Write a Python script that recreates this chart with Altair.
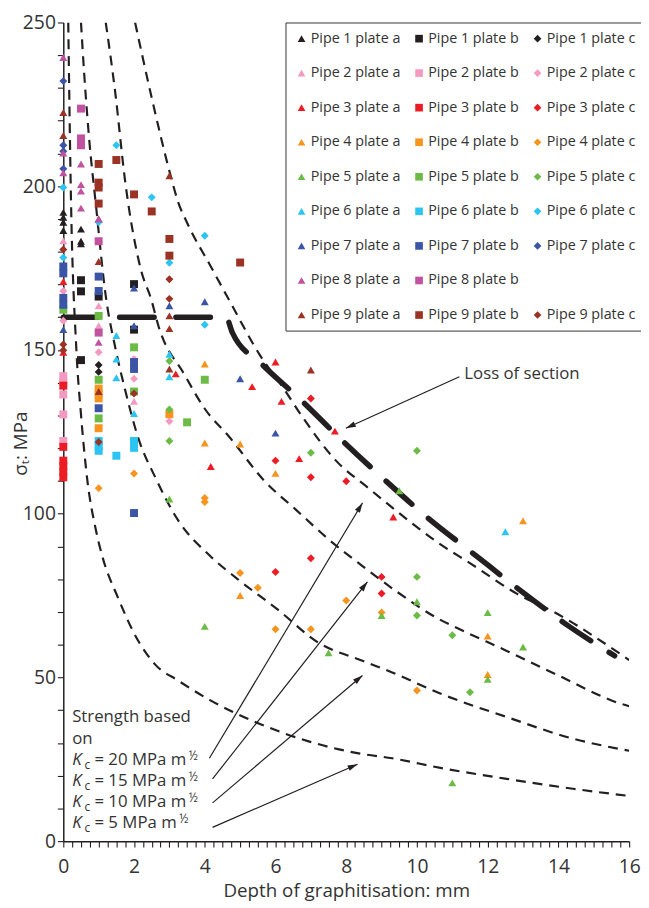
import math
import altair as alt
import pandas as pd

FONT = "Open Sans"
INK = "#231f20"
TXT = "#333333"

# ---------------- data ----------------
pipe_colors = ["#231f20", "#f49ac1", "#ed1c24", "#f7941d", "#6cbb46",
               "#2cc4f2", "#3a55a5", "#c0529f", "#9b3324"]
plate_shapes = ["triangle-up", "square", "diamond"]
plates = ["a", "b", "c"]

# (depth mm, stress MPa)
pipe1_a = [(0, 192.0), (0, 190.5), (0, 189.0), (0, 186.5), (0.5, 186.9), (0.5, 183.2), (0.5, 182.4), (1, 190.0)]
pipe1_b = [(0.5, 171.3), (0.5, 167.9), (0.5, 146.9), (1, 166.3), (2, 170.1), (2, 156.2)]
pipe1_c = [(1, 145.4), (1, 143.3)]
pipe2_a = [(0, 183.3), (1, 163.5), (1, 157.4), (2, 134.3)]
pipe2_b = [(0, 142.0), (0, 140.5), (0, 136.4), (0, 130.3), (0, 122.2)]
pipe2_c = [(0, 168.0), (0, 158.9), (1, 149.3), (2, 147.2), (2, 141.2), (3, 128.2)]
pipe3_a = [(0, 170.9), (0, 149.3), (3.18, 142.7), (4.17, 114.4), (5.34, 138.8), (6, 146.3),
           (6.17, 134.3), (6.67, 116.8), (7.68, 125.2), (9.33, 99.0)]
pipe3_b = [(0, 139.1), (0, 120.4), (0, 116.2), (0, 114.5), (0, 112.8), (0, 111.1)]
pipe3_c = [(6, 116.2), (6, 82.2), (7, 135.2), (7, 111.1), (7, 86.4), (8, 109.9), (9, 80.7), (9, 75.6)]
pipe4_a = [(4, 145.7), (4, 121.6), (5, 121.3), (5, 75.0), (6, 112.3), (12, 62.6), (12, 50.9), (13, 97.8)]
pipe4_b = [(1, 138.2), (1, 136.6), (1, 135.2), (1, 126.1), (3, 130.4)]
pipe4_c = [(1, 107.8), (2, 112.3), (4, 104.8), (4, 103.6), (5, 81.9), (5.5, 77.4), (6, 64.7),
           (7, 64.7), (8, 73.5), (9, 69.8), (10, 46.0)]
pipe5_a = [(3, 104.5), (4, 65.6), (7.5, 57.5), (9, 68.9), (9.5, 107.0), (10, 73.1), (11, 17.8),
           (12, 69.8), (12, 49.4), (13, 59.3)]
pipe5_b = [(0, 162.3), (1, 160.4), (1, 140.9), (1, 129.1), (2, 150.8), (2, 137.3), (3.5, 127.9), (4, 140.9)]
pipe5_c = [(3, 146.6), (3, 131.8), (3, 122.2), (7, 118.6), (10, 119.2), (10, 80.7), (10, 68.9),
           (11, 62.9), (11.5, 45.5)]
pipe6_a = [(1.5, 154.4), (1.5, 147.2), (1.5, 141.5), (2, 130.6), (3, 148.7), (3, 141.8), (12.5, 94.5)]
pipe6_b = [(1, 122.2), (1, 120.6), (1, 119.2), (1.5, 117.7), (2, 122.2), (2, 120.1)]
pipe6_c = [(0, 199.6), (0, 178.2), (1, 189.0), (1.5, 212.5), (2.5, 196.6), (3, 176.6), (4, 184.9), (4, 157.7)]
pipe7_a = [(0, 156.2), (2, 168.9), (2, 157.4), (3, 163.5), (4, 164.7), (5, 141.2), (6, 124.6)]
pipe7_b = [(0, 175.5), (0, 173.4), (0, 165.9), (0, 163.8), (1, 172.4), (1, 168.0), (1, 132.2),
           (2, 146.3), (2, 144.2), (2, 100.2)]
pipe7_c = [(0, 232.1), (0, 212.5), (0, 210.7), (0, 205.3)]
pipe8_a = [(0, 239.3), (0, 210.1), (0, 204.1), (0.5, 206.8), (0.5, 200.5), (0.5, 198.5), (0.5, 193.3),
           (1, 190.0), (1, 152.3)]
pipe8_b = [(0.5, 223.7), (0.5, 214.6), (0.5, 212.5), (1, 183.2), (1, 155.3)]
pipe8_c = []  # no plate c for pipe 8
pipe9_a = [(0, 222.5), (0, 215.5), (1, 177.0), (1, 137.3), (3, 203.2), (3, 160.4), (3, 156.5),
           (3, 144.2), (7, 143.9)]
pipe9_b = [(1, 206.8), (1, 201.1), (1, 199.6), (1, 194.7), (1.5, 208.0), (2, 197.5), (2.5, 192.3),
           (3, 183.9), (3, 178.8), (5, 176.7)]
pipe9_c = [(0, 180.7), (0, 151.7), (0, 149.9), (1, 121.9), (2, 136.7), (3, 171.6), (3, 165.6)]

all_sets = [pipe1_a, pipe1_b, pipe1_c, pipe2_a, pipe2_b, pipe2_c, pipe3_a, pipe3_b, pipe3_c,
            pipe4_a, pipe4_b, pipe4_c, pipe5_a, pipe5_b, pipe5_c, pipe6_a, pipe6_b, pipe6_c,
            pipe7_a, pipe7_b, pipe7_c, pipe8_a, pipe8_b, pipe8_c, pipe9_a, pipe9_b, pipe9_c]

# Kc curves
kc20_x = [2.03, 2.5, 3.05, 3.24, 3.52, 4.17, 4.73, 5.56, 6.23, 6.79, 7.71, 8.63, 9.39, 10.59, 11.54, 12.82, 13.85, 16.0]
kc20_y = [250, 227, 202.6, 195.4, 188.4, 175.5, 164.4, 148.4, 138.2, 129.1, 116.2, 107.8, 101.1, 91.2, 84.6, 75.6, 70.1, 55.3]
kc15_x = [1.2, 1.47, 1.75, 2.2, 2.49, 2.68, 3.43, 3.99, 4.72, 5.67, 6.59, 7.51, 8.46, 9.39, 10.59, 11.15, 12.54, 13.94, 15.81, 16.0]
kc15_y = [250, 228.5, 201.4, 174.3, 165.3, 157.7, 142.4, 132.2, 123.1, 110.2, 101.1, 92.1, 84.0, 76.5, 68.0, 65.0, 58.1, 50.9, 41.8, 41.2]
kc10_x = [0.5, 0.59, 0.73, 0.92, 1.2, 1.48, 1.76, 2.12, 2.6, 3.24, 4.16, 4.92, 6.03, 7.23, 8.46, 9.3, 10.7, 12.54, 14.41, 16.0]
kc10_y = [250, 234.5, 214.6, 194.5, 166.5, 150.2, 137.3, 123.1, 111.1, 98.1, 87.0, 80.1, 71.0, 60.5, 55.1, 51.5, 44.9, 37.9, 31.3, 27.6]
kc5_x = [0.14, 0.21, 0.37, 0.5, 0.67, 0.92, 1.09, 1.56, 2.03, 2.6, 3.24, 4.16, 5.56, 6.96, 8.35, 9.3, 10.7, 12.54, 14.41, 16.0]
kc5_y = [250, 200, 150, 130.3, 111.1, 95.1, 87.5, 74.0, 62.9, 53.9, 49.1, 43.0, 35.8, 30.4, 26.8, 25.3, 22.3, 19.0, 16.0, 13.8]

# loss-of-section line
loss_x = [0, 4.6, 4.78, 5.61, 6.73, 7.9, 9.1, 10.31, 11.62, 12.93, 14.22, 15.59]
loss_y = [160, 160, 155.3, 145.7, 134.6, 122.2, 110.2, 98.7, 87.6, 76.5, 66.2, 56.6]

# annotation arrows (start -> tip, data units)
arrow_x1 = [4.13, 4.22, 4.22, 4.22, 11.2]
arrow_y1 = [25.3, 19.0, 11.7, 4.2, 141.8]
arrow_x2 = [8.46, 8.60, 8.46, 8.32, 7.99]
arrow_y2 = [103.3, 79.2, 50.6, 23.5, 126.1]

kc_values = ["20", "15", "10", "5"]
kc_rows_y = [24.7, 18.4, 12.0, 5.4]
kc_half_x = [3.55, 3.55, 3.55, 3.28]

# ---------------- tables ----------------
series_order, series_colors, series_shapes, rows = [], [], [], []
k = 0
for p in range(9):
    for j, pl in enumerate(plates):
        name = f"Pipe {p + 1} plate {pl}"
        series_order.append(name)
        series_colors.append(pipe_colors[p] if all_sets[k] else "#ffffff")
        series_shapes.append(plate_shapes[j])
        for (xv, yv) in all_sets[k]:
            rows.append({"x": xv, "y": yv, "series": name})
        k += 1
scatter_df = pd.DataFrame(rows)

curve_rows = []
for name, xs_, ys_ in [("20", kc20_x, kc20_y), ("15", kc15_x, kc15_y), ("10", kc10_x, kc10_y), ("5", kc5_x, kc5_y)]:
    for xv, yv in zip(xs_, ys_):
        curve_rows.append({"x": xv, "y": yv, "curve": name})
curve_df = pd.DataFrame(curve_rows)
loss_df = pd.DataFrame({"x": loss_x, "y": loss_y})

W, H = 573, 829
PX_X = W / 16
PX_Y = H / 250
arrow_df = pd.DataFrame({"x": arrow_x1, "y": arrow_y1, "x2": arrow_x2, "y2": arrow_y2})
arrow_df["angle"] = [
    math.degrees(math.atan2((b - a) * PX_X, (d - c) * PX_Y)) % 360
    for a, b, c, d in zip(arrow_x1, arrow_x2, arrow_y1, arrow_y2)
]

# ---------------- axes ----------------
x_axis = alt.Axis(values=[i / 4 for i in range(65)],
                  labelExpr="datum.value % 2 === 0 ? '' + datum.value : ''",
                  title="Depth of graphitisation: mm", grid=False,
                  tickSize=6, tickColor=INK, tickWidth=1.1, domainColor=INK, domainWidth=1.5,
                  labelFont=FONT, labelFontSize=19.5, labelColor=TXT, labelPadding=11,
                  labelFlush=False, labelOverlap=False,
                  titleFont=FONT, titleFontSize=19, titleFontWeight="normal", titleColor=TXT, titlePadding=6)
y_axis = alt.Axis(values=list(range(0, 251, 10)),
                  labelExpr="datum.value % 50 === 0 ? '' + datum.value : ''",
                  title="σₜ: MPa", grid=False,
                  tickSize=6, tickColor=INK, tickWidth=1.1, domainColor=INK, domainWidth=1.5,
                  labelFont=FONT, labelFontSize=19.5, labelColor=TXT, labelPadding=2,
                  labelFlush=False, labelOverlap=False,
                  titleFont=FONT, titleFontSize=19, titleFontWeight="normal", titleColor=TXT,
                  titleX=-33, titleY=426)

xs = alt.Scale(domain=[0, 16], nice=False, zero=False)
ys = alt.Scale(domain=[0, 250], nice=False, zero=False)


def X(f="x"):
    return alt.X(f"{f}:Q", scale=xs, axis=x_axis)


def Y(f="y"):
    return alt.Y(f"{f}:Q", scale=ys, axis=y_axis)


curves = alt.Chart(curve_df).mark_line(
    strokeDash=[10, 7], strokeWidth=2.2, color=INK, interpolate="monotone", clip=True
).encode(x=X(), y=Y(), detail="curve:N")

loss = alt.Chart(loss_df).mark_line(
    strokeDash=[35, 22], strokeWidth=5.5, strokeCap="round", color=INK, interpolate="monotone"
).encode(x=X(), y=Y())

arrows = alt.Chart(arrow_df).mark_rule(color=INK, strokeWidth=1.2).encode(
    x=X(), y=Y(), x2="x2:Q", y2="y2:Q")

heads = alt.Chart(arrow_df).mark_point(
    shape="M0,0L0.6,2L-0.6,2Z", filled=True, size=100, color=INK, opacity=1
).encode(x=X("x2"), y=Y("y2"), angle=alt.Angle("angle:Q", scale=None))

plain_df = pd.DataFrame({"x": [11.34, 0.25, 0.25], "y": [142.7, 37.9, 31.3],
                         "t": ["Loss of section", "Strength based", "on"]})
plain = alt.Chart(plain_df).mark_text(
    align="left", baseline="middle", font=FONT, fontSize=17, color=TXT
).encode(x=X(), y=Y(), text="t:N")

k_df = pd.DataFrame({"x": [0.25] * 4, "y": kc_rows_y, "t": ["K"] * 4})
k_txt = alt.Chart(k_df).mark_text(
    align="left", baseline="middle", font=FONT, fontSize=17, fontStyle="italic", color=TXT
).encode(x=X(), y=Y(), text="t:N")

c_df = pd.DataFrame({"x": [0.6] * 4, "y": kc_rows_y, "t": ["c"] * 4})
c_txt = alt.Chart(c_df).mark_text(
    align="left", baseline="middle", font=FONT, fontSize=12, dy=5, color=TXT
).encode(x=X(), y=Y(), text="t:N")

eq_df = pd.DataFrame({"x": [0.88] * 4, "y": kc_rows_y, "t": [f"= {v} MPa m" for v in kc_values]})
eq_txt = alt.Chart(eq_df).mark_text(
    align="left", baseline="middle", font=FONT, fontSize=17, color=TXT
).encode(x=X(), y=Y(), text="t:N")

half_df = pd.DataFrame({"x": kc_half_x, "y": kc_rows_y, "t": ["½"] * 4})
half_txt = alt.Chart(half_df).mark_text(
    align="left", baseline="middle", font=FONT, fontSize=12, dy=-4, color=TXT
).encode(x=X(), y=Y(), text="t:N")

legend = alt.Legend(title=None, orient="none", legendX=225, legendY=0, direction="horizontal", columns=3,
                    symbolSize=60, symbolStrokeWidth=0, labelFont=FONT, labelFontSize=14.5,
                    labelColor=TXT, labelOffset=2, labelLimit=200, padding=9, rowPadding=20,
                    columnPadding=11, strokeColor="#333333", fillColor="white", symbolLimit=50,
                    labelExpr="datum.label === 'Pipe 8 plate c' ? '' : datum.label")

points = alt.Chart(scatter_df).mark_point(filled=True, size=65, opacity=1, strokeWidth=0).encode(
    x=X(), y=Y(),
    color=alt.Color("series:N", scale=alt.Scale(domain=series_order, range=series_colors), legend=legend),
    shape=alt.Shape("series:N", scale=alt.Scale(domain=series_order, range=series_shapes), legend=legend),
)

chart = alt.layer(curves, loss, arrows, heads, plain, k_txt, c_txt, eq_txt, half_txt, points).properties(
    width=W, height=H,
    autosize=alt.AutoSizeParams(type="none"),
    padding={"left": 56, "top": 9, "right": 12, "bottom": 60},
).configure_view(stroke=None)

chart.save("out.html", embed_options={"renderer": "svg", "actions": False})
